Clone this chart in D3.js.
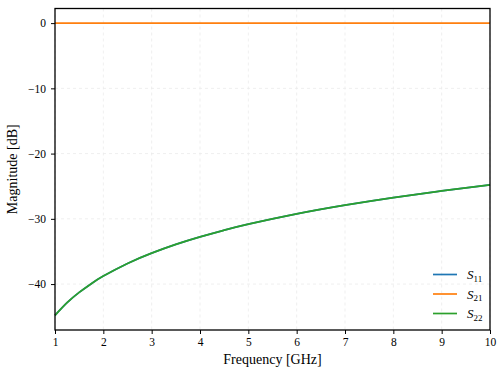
<!DOCTYPE html>
<html>
<head>
<meta charset="utf-8">
<script src="https://cdn.jsdelivr.net/npm/d3@7"></script>
<style>
  body { margin: 0; background: #fff; }
  text { font-family: "Liberation Serif", "DejaVu Serif", serif; fill: #000; }
</style>
</head>
<body>
<div id="chart"></div>
<script>
var width = 504,
    height = 376;

// frequency points [GHz]
var freq = [1, 1.25, 1.5, 1.75, 2, 2.5, 3, 3.5, 4, 4.5, 5, 6, 7, 8, 9, 10];
// magnitudes in dB
var s11 = [-44.8, -42.86, -41.28, -39.94, -38.78, -36.84, -35.26, -33.92, -32.76, -31.74, -30.82, -29.24, -27.9, -26.74, -25.72, -24.8];
var s21 = [0, 0, 0, 0, 0, 0, 0, 0, 0, 0, 0, 0, 0, 0, 0, 0];
var s22 = [-44.8, -42.86, -41.28, -39.94, -38.78, -36.84, -35.26, -33.92, -32.76, -31.74, -30.82, -29.24, -27.9, -26.74, -25.72, -24.8];

var xTicks = [1, 2, 3, 4, 5, 6, 7, 8, 9, 10];
var yTicks = [0, -10, -20, -30, -40];

var series = [
  { name: "11", values: s11, color: "#1f77b4" },
  { name: "21", values: s21, color: "#ff7f0e" },
  { name: "22", values: s22, color: "#2ca02c" }
];

var margin = { top: 8.5, right: 14, bottom: 46, left: 55 };
var pw = width - margin.left - margin.right,
    ph = height - margin.top - margin.bottom;

var svg = d3.select("#chart").append("svg")
    .attr("width", width)
    .attr("height", height);

var g = svg.append("g")
    .attr("transform", "translate(" + margin.left + "," + margin.top + ")");

// y limits with matplotlib style 5% padding
var all = s11.concat(s21, s22);
var ymin = d3.min(all), ymax = d3.max(all);
var pad = (ymax - ymin) * 0.05;

var x = d3.scaleLinear().domain([1, 10]).range([0, pw]);
var y = d3.scaleLinear().domain([ymin - pad, ymax + pad]).range([ph, 0]);

// grid
g.append("g").selectAll("line").data(xTicks).enter().append("line")
    .attr("x1", d => x(d)).attr("x2", d => x(d))
    .attr("y1", 0).attr("y2", ph)
    .attr("stroke", "#ebebeb").attr("stroke-width", 0.8)
    .attr("stroke-dasharray", "3,3");
g.append("g").selectAll("line").data(yTicks).enter().append("line")
    .attr("y1", d => y(d)).attr("y2", d => y(d))
    .attr("x1", 0).attr("x2", pw)
    .attr("stroke", "#ebebeb").attr("stroke-width", 0.8)
    .attr("stroke-dasharray", "3,3");

// curves
var line = d3.line()
    .x((d, i) => x(freq[i]))
    .y(d => y(d))
    .curve(d3.curveNatural);

g.selectAll(".series").data(series).enter().append("path")
    .attr("class", "series")
    .attr("d", d => line(d.values))
    .attr("fill", "none")
    .attr("stroke", d => d.color)
    .attr("stroke-width", 1.7);

// axes
var fmt = d => (d < 0 ? "\u2212" + Math.abs(d) : "" + d);

var xAxis = g.append("g")
    .attr("transform", "translate(0," + ph + ")")
    .call(d3.axisBottom(x).tickValues(xTicks).tickFormat(fmt).tickSizeOuter(0).tickSize(4).tickPadding(4));
var yAxis = g.append("g")
    .call(d3.axisLeft(y).tickValues(yTicks).tickFormat(fmt).tickSizeOuter(0).tickSize(4).tickPadding(5));

[xAxis, yAxis].forEach(function(a) {
  a.select(".domain").remove();
  a.selectAll(".tick line").attr("stroke", "#000").attr("stroke-width", 1);
  a.selectAll(".tick text").style("font-size", "11.5px").style("font-family", "Liberation Serif, serif");
});

// frame
g.append("rect")
    .attr("x", 0).attr("y", 0)
    .attr("width", pw).attr("height", ph)
    .attr("fill", "none")
    .attr("stroke", "#000")
    .attr("stroke-width", 1.3);

// axis labels
svg.append("text")
    .attr("x", margin.left + pw / 2)
    .attr("y", 364)
    .attr("text-anchor", "middle")
    .style("font-size", "14px")
    .text("Frequency [GHz]");

svg.append("text")
    .attr("transform", "translate(17," + (margin.top + ph / 2) + ") rotate(-90)")
    .attr("text-anchor", "middle")
    .style("font-size", "14px")
    .text("Magnitude [dB]");

// legend
var legend = g.selectAll(".legend").data(series).enter().append("g")
    .attr("class", "legend")
    .attr("transform", (d, i) => "translate(" + (pw - 57) + "," + (266 + i * 19.5) + ")");

legend.append("line")
    .attr("x1", 0).attr("x2", 24)
    .attr("stroke", d => d.color)
    .attr("stroke-width", 1.7);

var lt = legend.append("text")
    .attr("x", 34)
    .attr("dy", "0.35em")
    .style("font-size", "13px");
lt.append("tspan").style("font-style", "italic").text("S");
lt.append("tspan").attr("dy", "2.5").style("font-size", "9px").text(d => d.name);
</script>
</body>
</html>
